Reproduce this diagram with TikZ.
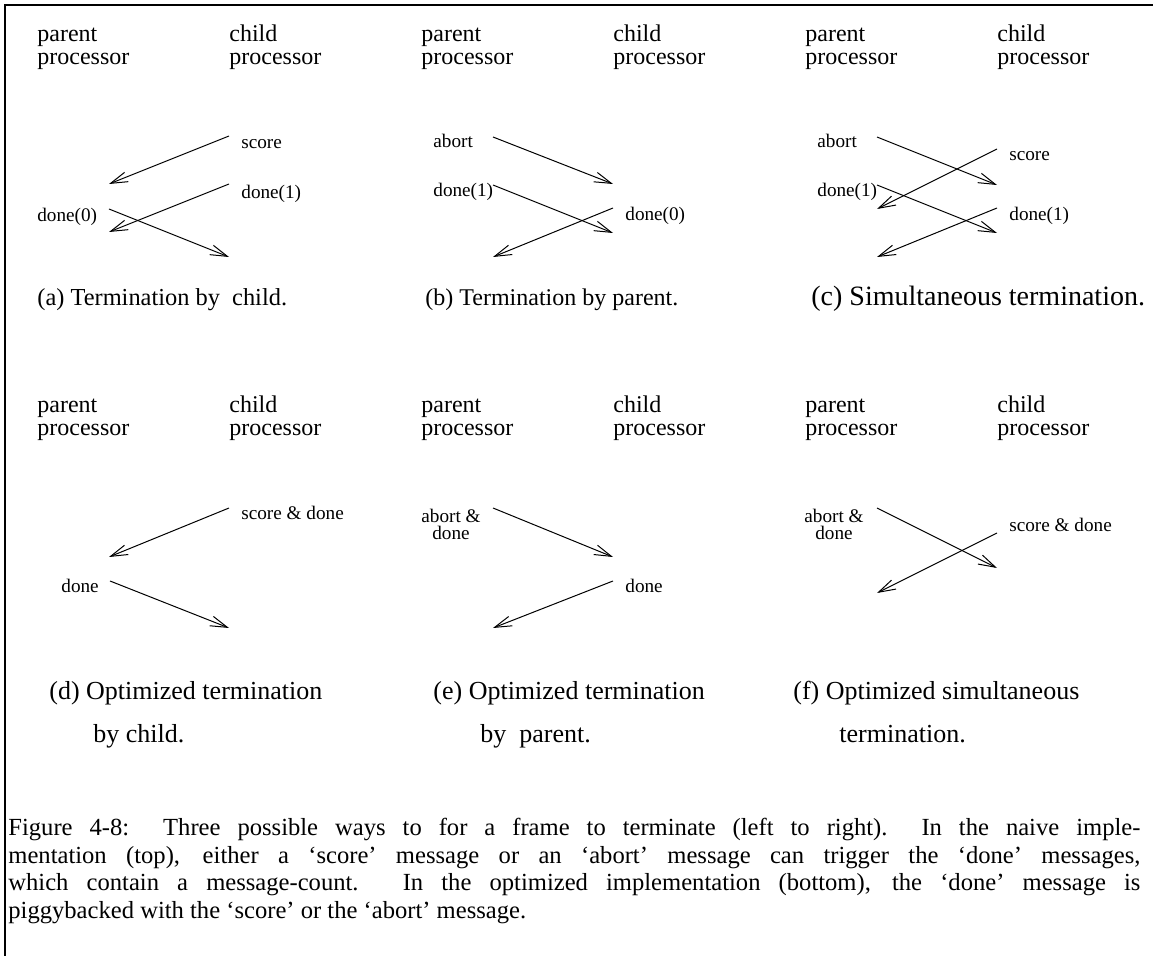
\documentclass[tikz,border=0pt]{standalone}
\usepackage{fontspec}
\setmainfont{Liberation Serif}
\usetikzlibrary{arrows.meta}

\tikzset{
  msg/.style={-{Straight Barb[length=8.5pt,width=5pt]}, line width=0.5pt},
  proc/.style={anchor=base west, inner sep=0pt, align=left, font=\fontsize{12}{11.5}\selectfont},
  lbl/.style={anchor=base west, inner sep=0pt, font=\fontsize{9.6}{8.5}\selectfont},
  lblc/.style={anchor=north, inner sep=0pt, align=center, font=\fontsize{9.6}{8.5}\selectfont},
  sub/.style={anchor=base west, inner sep=0pt, font=\fontsize{13}{15}\selectfont},
}

\begin{document}
\begin{tikzpicture}[x=0.5pt,y=-0.5pt]
	\useasboundingbox (0,0) rectangle (1153,956);
	\draw[line width=1pt] (5,956) -- (5,5) -- (1153,5);
	% processor headings of the six panels
	\foreach \i/\dx/\dy in {a/0/0, b/384/0, c/768/0, d/0/371, e/384/371, f/768/371} {
		\node[proc] (par\i) at (37+\dx,65+\dy) {parent\\processor};
		\node[proc] (chi\i) at (229+\dx,65+\dy) {child\\processor};
	}
	% (a) termination by child
	\coordinate (a-c1) at (229,136);
	\coordinate (a-p1) at (109,184);
	\coordinate (a-c2) at (229,184);
	\coordinate (a-p2) at (109,232);
	\coordinate (a-p3) at (109,209);
	\coordinate (a-c3) at (229,257);
	\draw[msg] (a-c1) -- (a-p1);
	\draw[msg] (a-c2) -- (a-p2);
	\draw[msg] (a-p3) -- (a-c3);
	\node[lbl] (a-score) at (241,149) {score};
	\node[lbl] (a-done1) at (241,199) {done(1)};
	\node[lbl] (a-done0) at (37,222) {done(0)};
	\node[sub, font=\fontsize{12.2}{15}\selectfont] (a-cap) at (37,306) {(a) Termination by\ \ child.};
	% (b) termination by parent
	\begin{scope}[shift={(384,0)}]
	\coordinate (b-p1) at (109,137);
	\coordinate (b-c1) at (229,184);
	\coordinate (b-p2) at (109,185);
	\coordinate (b-c2) at (229,233);
	\coordinate (b-c3) at (229,208);
	\coordinate (b-p3) at (109,257);
	\draw[msg] (b-p1) -- (b-c1);
	\draw[msg] (b-p2) -- (b-c2);
	\draw[msg] (b-c3) -- (b-p3);
	\node[lbl] (b-abort) at (49,148) {abort};
	\node[lbl] (b-done1) at (49,197) {done(1)};
	\node[lbl] (b-done0) at (241,221) {done(0)};
	\node[sub, font=\fontsize{12}{15}\selectfont] (b-cap) at (41,306) {(b) Termination by parent.};
	\end{scope}
	% (c) simultaneous termination
	\begin{scope}[shift={(768,0)}]
	\coordinate (c-p1) at (109,137);
	\coordinate (c-c1) at (229,185);
	\coordinate (c-p2) at (109,185);
	\coordinate (c-c2) at (229,233);
	\coordinate (c-c3) at (229,149);
	\coordinate (c-p3) at (109,209);
	\coordinate (c-c4) at (229,208);
	\coordinate (c-p4) at (109,257);
	\draw[msg] (c-p1) -- (c-c1);
	\draw[msg] (c-p2) -- (c-c2);
	\draw[msg] (c-c3) -- (c-p3);
	\draw[msg] (c-c4) -- (c-p4);
	\node[lbl] (c-abort) at (49,148) {abort};
	\node[lbl] (c-done1p) at (49,197) {done(1)};
	\node[lbl] (c-score) at (241,161) {score};
	\node[lbl] (c-done1c) at (241,221) {done(1)};
	\node[sub, font=\fontsize{14}{15}\selectfont] (c-cap) at (43,306) {(c) Simultaneous termination.};
	\end{scope}
	% (d) optimized termination by child
	\begin{scope}[shift={(0,371)}]
	\coordinate (d-c1) at (229,137);
	\coordinate (d-p1) at (109,186);
	\coordinate (d-p2) at (110,210);
	\coordinate (d-c2) at (229,257);
	\draw[msg] (d-c1) -- (d-p1);
	\draw[msg] (d-p2) -- (d-c2);
	\node[lbl] (d-score) at (241,149) {score \& done};
	\node[lbl] (d-done) at (61,222) {done};
	\node[sub] (d-cap) at (49,329) {(d) Optimized termination};
	\node[sub] (d-cap2) at (93,372) {by child.};
	\end{scope}
	% (e) optimized termination by parent
	\begin{scope}[shift={(384,371)}]
	\coordinate (e-p1) at (109,137);
	\coordinate (e-c1) at (229,186);
	\coordinate (e-c2) at (229,210);
	\coordinate (e-p2) at (109,257);
	\draw[msg] (e-p1) -- (e-c1);
	\draw[msg] (e-c2) -- (e-p2);
	\node[lblc] (e-abort) at (67,138) {abort \&\\done};
	\node[lbl] (e-done) at (241,222) {done};
	\node[sub] (e-cap) at (49,329) {(e) Optimized termination};
	\node[sub] (e-cap2) at (96,372) {by\ \ parent.};
	\end{scope}
	% (f) optimized simultaneous termination
	\begin{scope}[shift={(768,371)}]
	\coordinate (f-p1) at (109,137);
	\coordinate (f-c1) at (229,197);
	\coordinate (f-c2) at (229,162);
	\coordinate (f-p2) at (109,222);
	\draw[msg] (f-p1) -- (f-c1);
	\draw[msg] (f-c2) -- (f-p2);
	\node[lblc] (f-abort) at (66,138) {abort \&\\done};
	\node[lbl] (f-score) at (241,161) {score \& done};
	\node[sub] (f-cap) at (25,329) {(f) Optimized simultaneous};
	\node[sub] (f-cap2) at (71,372) {termination.};
	\end{scope}
	% figure caption
	\node[anchor=base west, inner sep=0pt, text width=566pt, align=justify,
	      font=\fontsize{12.3}{13.75}\selectfont] (caption) at (8,836)
	  {Figure 4-8:\ \ Three possible ways to for a frame to terminate (left to right).\ \ In the naive imple-\linebreak
	   mentation (top), either a ‘score’ message or an ‘abort’ message can trigger the ‘done’ messages,\linebreak
	   which contain a message-count. In the optimized implementation (bottom), the ‘done’ message is\linebreak
	   piggybacked with the ‘score’ or the ‘abort’ message.};
\end{tikzpicture}
\end{document}
